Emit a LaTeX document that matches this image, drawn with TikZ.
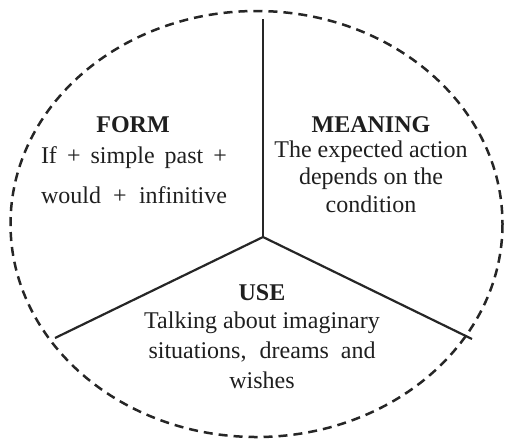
\documentclass[tikz,border=0pt]{standalone}
\usepackage{fontspec}
\setmainfont{Liberation Serif}
\begin{document}
\begin{tikzpicture}[x=1pt,y=-1pt,
  rim/.style={draw=black!85, line width=2.5pt, dash pattern=on 9pt off 6pt},
  spoke/.style={draw=black!85, line width=2.2pt},
  head/.style={font=\fontsize{24}{28}\selectfont\bfseries, text=black!88, inner sep=0pt, anchor=base},
  body/.style={font=\fontsize{24}{28}\selectfont, text=black!88, inner sep=0pt, anchor=base}]
\useasboundingbox (0,0) rectangle (505,440);
\draw[rim] (256.5,224) ellipse [x radius=246, y radius=213];
\coordinate (c) at (263,237);
\coordinate (t) at (263,19);
\coordinate (l) at (55,338);
\coordinate (r) at (472,339);
\draw[spoke] (c) -- (t);
\draw[spoke] (c) -- (l);
\draw[spoke] (c) -- (r);
% FORM
\node[head] (form) at (133,132) {FORM};
\node[body] (f1) at (134,163) {\makebox[186pt][s]{If + simple past +}};
\node[body] (f2) at (134,203) {\makebox[186pt][s]{would + infinitive}};
% MEANING
\node[head] (mean) at (371,132) {MEANING};
\node[body] (m1) at (371,157) {The expected action};
\node[body] (m2) at (371,184) {depends on the};
\node[body] (m3) at (371,212) {condition};
% USE
\node[head] (use) at (262,300) {USE};
\node[body] (u1) at (262,328) {Talking about imaginary};
\node[body] (u2) at (262,358) {\makebox[227pt][s]{situations, dreams and}};
\node[body] (u3) at (262,388) {wishes};
\end{tikzpicture}
\end{document}
